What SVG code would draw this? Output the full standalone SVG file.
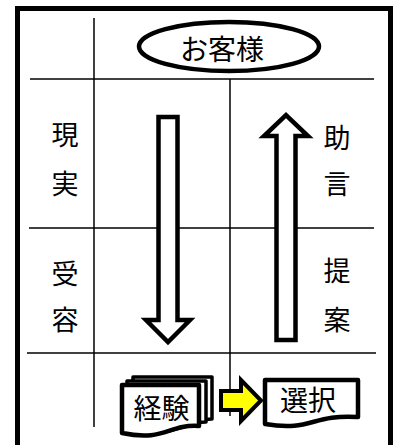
<svg xmlns="http://www.w3.org/2000/svg" width="398" height="445" viewBox="0 0 398 445">
<style>
.grid{stroke:#000;stroke-width:1.5;fill:none}
.lbl{font-family:"Noto Sans CJK JP","Noto Sans",sans-serif;font-size:27px;fill:#000;text-anchor:middle}
.big{font-size:28px}
.doc{fill:#fff;stroke:#000;stroke-width:4.5;stroke-linejoin:round}
.back{fill:#fff;stroke:#000;stroke-width:3.5;stroke-linejoin:round}
.arr{fill:#fff;stroke:#000;stroke-width:4.5;stroke-linejoin:miter}
</style>
<rect x="0" y="0" width="398" height="445" fill="#fff"/>
<rect x="17.5" y="8.5" width="373" height="440" fill="none" stroke="#000" stroke-width="5"/>
<g id="grid">
<line class="grid" x1="94" y1="18" x2="94" y2="427"/>
<line class="grid" x1="230" y1="79" x2="230" y2="416"/>
<line class="grid" x1="30" y1="79" x2="374" y2="79"/>
<line class="grid" x1="29" y1="228" x2="374" y2="228"/>
<line class="grid" x1="27" y1="353" x2="376" y2="353"/>
</g>
<g id="customer">
<ellipse cx="229" cy="46.5" rx="90" ry="24.5" fill="#fff" stroke="#000" stroke-width="4.5"/>
<text class="lbl big" x="222" y="60">お客様</text>
</g>
<g id="left-labels">
<text class="lbl" x="65" y="145">現</text>
<text class="lbl" x="65" y="194">実</text>
<text class="lbl" x="65" y="284">受</text>
<text class="lbl" x="65" y="330">容</text>
</g>
<g id="right-labels">
<text class="lbl" x="337" y="148">助</text>
<text class="lbl" x="337" y="194">言</text>
<text class="lbl" x="337" y="281">提</text>
<text class="lbl" x="337" y="330">案</text>
</g>
<g id="connectors">
<path class="arr" d="M158.5,117 H177.5 V320 H190 L168,342 L146,320 H158.5 Z"/>
<path class="arr" d="M276.5,340 V136 H264 L286,115 L308,136 H295.5 V340 Z"/>
<path d="M221,391 H241 V380 L261,400.5 L241,421 V410 H221 Z" fill="#ffff00" stroke="#000" stroke-width="4" stroke-linejoin="miter"/>
</g>
<g id="experience">
<path class="back" d="M133,377 H212 V419 C190,419 190,432 133,428 Z"/>
<path class="back" d="M127,381 H206 V422 C183,422 183,436 127,432 Z"/>
<path class="doc" d="M122,385 H199 V426 C168,424 165,442 122,433 Z"/>
<text class="lbl big" x="161.5" y="419">経験</text>
</g>
<g id="selection">
<path class="doc" d="M265,380 H358 V417 C311,414 312,432 265,424 Z"/>
<text class="lbl big" x="308" y="411">選択</text>
</g>
</svg>
